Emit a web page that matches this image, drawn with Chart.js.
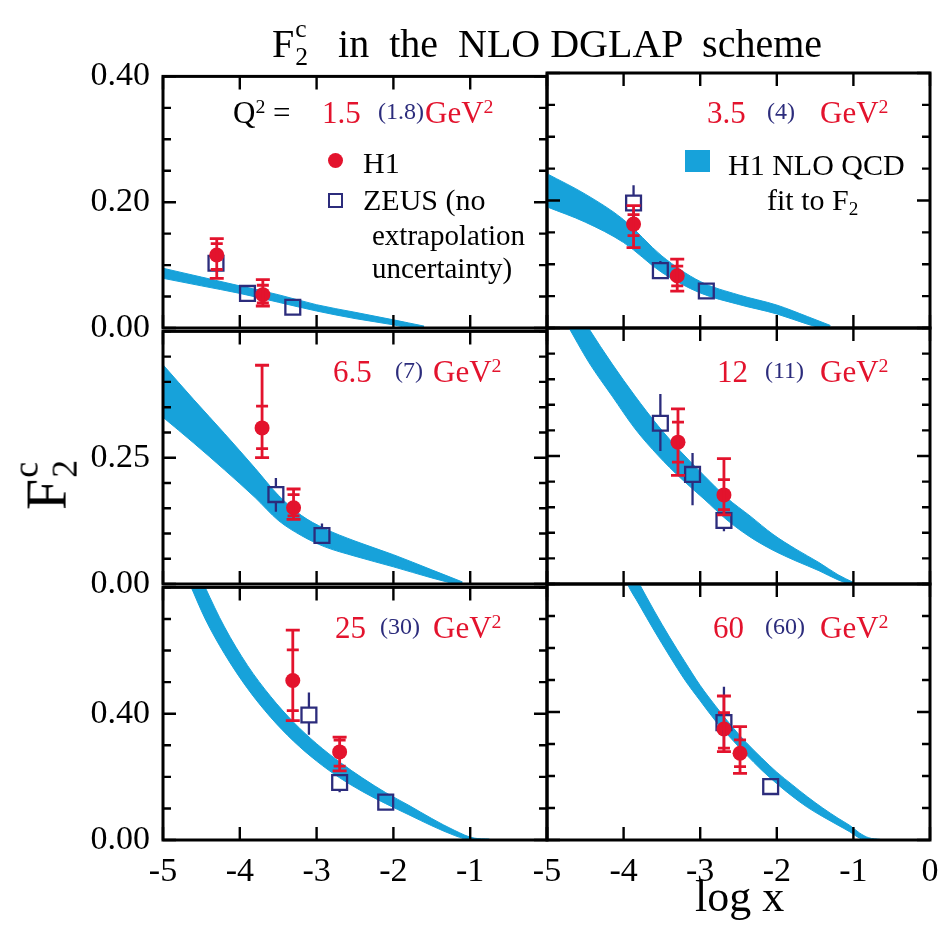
<!DOCTYPE html>
<html>
<head>
<meta charset="utf-8">
<script src="https://cdn.jsdelivr.net/npm/chart.js@4.4.0/dist/chart.umd.min.js"></script>
<style>
  html, body { margin: 0; padding: 0; background: #fff; }
  #page { position: relative; width: 940px; height: 930px; overflow: hidden;
          font-family: 'Liberation Serif', 'Times New Roman', serif; color: #000; }
  #page canvas { position: absolute; }
  .t { position: absolute; white-space: pre; line-height: 1; }
  .t sup { font-size: 0.64em; position: relative; top: -0.5em; vertical-align: baseline; line-height: 0; }
  .t sub { font-size: 0.64em; position: relative; top: 0.28em; vertical-align: baseline; line-height: 0; }
  .stack { display: inline-block; font-size: 0.64em; line-height: 1.1; vertical-align: -0.32em; margin-left: 1px; }
  .stack span { display: block; }
</style>
</head>
<body>
<div id="page"></div>
<script>
// ---- data ----
const panelQ2 = ['1.5', '3.5', '6.5', '12', '25', '60'];
const zeusQ2 = ['(1.8)', '(4)', '(7)', '(11)', '(30)', '(60)'];

const xTickVals = [-5, -4, -3, -2, -1, 0];
const rowYMax = [0.4, 0.5, 0.8];
const rowYTicks = [
  [0, 0.05, 0.1, 0.15, 0.2, 0.25, 0.3, 0.35, 0.4],
  [0, 0.05, 0.1, 0.15, 0.2, 0.25, 0.3, 0.35, 0.4, 0.45, 0.5],
  [0, 0.1, 0.2, 0.3, 0.4, 0.5, 0.6, 0.7, 0.8]
];
const rowYLabels = [[0, 0.2, 0.4], [0, 0.25], [0, 0.4]];

// H1 points (log x, F2c, total and stat error ends)
const h1LogX   = [[-4.30, -3.70], [-3.87, -3.30], [-3.71, -3.30], [-3.29, -2.69], [-3.31, -2.70], [-2.69, -2.48]];
const h1F2c    = [[0.116, 0.053], [0.163, 0.082], [0.309, 0.151], [0.277, 0.174], [0.505, 0.279], [0.347, 0.271]];
const h1TotHi  = [[0.142, 0.077], [0.192, 0.108], [0.433, 0.188], [0.342, 0.245], [0.665, 0.326], [0.450, 0.354]];
const h1TotLo  = [[0.079, 0.035], [0.126, 0.058], [0.250, 0.128], [0.212, 0.135], [0.378, 0.219], [0.276, 0.208]];
const h1StatHi = [[0.134, 0.068], [0.178, 0.097], [0.352, 0.177], [0.316, 0.204], [0.602, 0.316], [0.398, 0.313]];
const h1StatLo = [[0.093, 0.040], [0.145, 0.066], [0.268, 0.135], [0.238, 0.145], [0.410, 0.234], [0.287, 0.229]];

// ZEUS points (log x, F2c, error ends)
const zeusLogX = [[-4.31, -3.90, -3.31], [-3.87, -3.52, -2.92], [-3.53, -2.93], [-3.52, -3.10, -2.69], [-3.10, -2.70, -2.10], [-2.69, -2.08]];
const zeusF2c  = [[0.103, 0.055, 0.033], [0.196, 0.090, 0.058], [0.177, 0.096], [0.314, 0.214, 0.124], [0.396, 0.182, 0.120], [0.367, 0.167]];
const zeusHi   = [[0.114, 0.062, 0.038], [0.224, 0.105, 0.063], [0.210, 0.120], [0.371, 0.256, 0.139], [0.467, 0.198, 0.129], [0.479, 0.176]];
const zeusLo   = [[0.092, 0.048, 0.028], [0.170, 0.080, 0.053], [0.143, 0.080], [0.260, 0.154, 0.103], [0.333, 0.151, 0.111], [0.276, 0.158]];

// H1 NLO QCD fit band (lower and upper edge)
const bandLogX = [
  [-5, -4.5, -4, -3.5, -3, -2.5, -2, -1.8, -1.6],
  [-5, -4.5, -4.0, -3.5, -3.0, -2.5, -2.0, -1.6, -1.3],
  [-5, -4.6, -4.2, -3.8, -3.5, -3.2, -2.9, -2.5, -2.0, -1.5, -1.1],
  [-4.75, -4.45, -4.15, -3.85, -3.55, -3.25, -2.95, -2.65, -2.35, -2.05, -1.75, -1.45, -1.2, -1.0],
  [-4.65, -4.45, -4.2, -3.9, -3.6, -3.3, -3.0, -2.7, -2.4, -2.1, -1.8, -1.5, -1.2, -0.95, -0.75],
  [-4.05, -3.95, -3.8, -3.6, -3.4, -3.2, -3.0, -2.8, -2.6, -2.4, -2.2, -2.0, -1.8, -1.6, -1.4, -1.2, -1.05, -0.92, -0.8, -0.65]
];
const bandLo = [
  [0.079, 0.067, 0.055, 0.041, 0.027, 0.015, 0.005, 0.0, -0.004],
  [0.190, 0.166, 0.134, 0.087, 0.055, 0.037, 0.022, 0.006, -0.004],
  [0.330, 0.279, 0.226, 0.171, 0.126, 0.096, 0.074, 0.055, 0.034, 0.012, -0.004],
  [0.51, 0.432, 0.367, 0.303, 0.251, 0.206, 0.166, 0.125, 0.092, 0.066, 0.045, 0.026, 0.008, -0.003],
  [0.81, 0.70, 0.590, 0.480, 0.389, 0.313, 0.250, 0.197, 0.153, 0.115, 0.080, 0.045, 0.014, -0.004, -0.006],
  [0.86, 0.80, 0.737, 0.654, 0.575, 0.500, 0.435, 0.372, 0.318, 0.267, 0.219, 0.176, 0.137, 0.102, 0.073, 0.046, 0.026, 0.006, -0.003, -0.006]
];
const bandHi = [
  [0.095, 0.081, 0.067, 0.053, 0.037, 0.025, 0.013, 0.008, 0.003],
  [0.242, 0.210, 0.170, 0.113, 0.073, 0.052, 0.036, 0.018, 0.004],
  [0.434, 0.365, 0.298, 0.229, 0.176, 0.136, 0.110, 0.085, 0.058, 0.028, 0.004],
  [0.57, 0.498, 0.430, 0.367, 0.309, 0.258, 0.212, 0.168, 0.133, 0.097, 0.068, 0.042, 0.018, 0.003],
  [0.91, 0.80, 0.675, 0.553, 0.455, 0.373, 0.305, 0.247, 0.196, 0.150, 0.110, 0.068, 0.030, 0.006, 0.003],
  [0.93, 0.87, 0.803, 0.716, 0.634, 0.557, 0.483, 0.419, 0.359, 0.305, 0.257, 0.212, 0.173, 0.135, 0.100, 0.068, 0.046, 0.022, 0.007, 0.002]
];

// ---- layout ----
const RED = '#e3132d';
const NAVY = '#2c2c7c';
const BAND = '#17a2da';
const SERIF = "'Liberation Serif', 'Times New Roman', serif";

const colX = [163, 547, 930];
const rowY = [73, 328, 584, 840];
const M = { l: 110, t: 30, r: 30, b: 70 };

const page = document.getElementById('page');

const isLabel = (row, v) => rowYLabels[row].some(l => Math.abs(l - v) < 1e-9);

function seg(ctx, x1, y1, x2, y2) {
    ctx.moveTo(x1, y1);
    ctx.lineTo(x2, y2);
}

function drawErrors(chart, p) {
    const { ctx, scales: { x, y } } = chart;
    ctx.save();
    ctx.beginPath();
    ctx.strokeStyle = NAVY;
    ctx.lineWidth = 2.3;
    zeusLogX[p].forEach((lx, k) => {
        const px = x.getPixelForValue(lx);
        const py = y.getPixelForValue(zeusF2c[p][k]);
        const hs = 7.5;
        const top = y.getPixelForValue(zeusHi[p][k]);
        const bot = y.getPixelForValue(zeusLo[p][k]);
        if (top < py - hs) seg(ctx, px, top, px, py - hs);
        if (bot > py + hs) seg(ctx, px, py + hs, px, bot);
    });
    ctx.stroke();

    ctx.beginPath();
    ctx.strokeStyle = RED;
    ctx.lineWidth = 2.8;
    h1LogX[p].forEach((lx, k) => {
        const px = x.getPixelForValue(lx);
        seg(ctx, px, y.getPixelForValue(h1TotHi[p][k]), px, y.getPixelForValue(h1TotLo[p][k]));
        [h1TotHi, h1TotLo].forEach(arr => {
            const yy = y.getPixelForValue(arr[p][k]);
            seg(ctx, px - 7, yy, px + 7, yy);
        });
        [h1StatHi, h1StatLo].forEach(arr => {
            const yy = y.getPixelForValue(arr[p][k]);
            seg(ctx, px - 6, yy, px + 6, yy);
        });
    });
    ctx.stroke();
    ctx.restore();
}

function drawFrame(chart, row) {
    const { ctx, chartArea: a, scales: { x, y } } = chart;
    ctx.save();
    ctx.strokeStyle = '#000';
    ctx.lineWidth = 2.4;
    ctx.beginPath();
    xTickVals.forEach(v => {
        const px = x.getPixelForValue(v);
        seg(ctx, px, a.bottom, px, a.bottom - 13);
        seg(ctx, px, a.top, px, a.top + 13);
    });
    rowYTicks[row].forEach(v => {
        const py = y.getPixelForValue(v);
        const len = isLabel(row, v) ? 13 : 8;
        seg(ctx, a.left, py, a.left + len, py);
        seg(ctx, a.right, py, a.right - len, py);
    });
    ctx.stroke();
    ctx.lineWidth = 3;
    ctx.strokeRect(a.left, a.top, a.right - a.left, a.bottom - a.top);
    ctx.restore();
}

const framePlugin = {
    id: 'frame',
    afterDatasetsDraw(chart, args, opts) {
        drawErrors(chart, opts.panel);
    },
    afterDraw(chart, args, opts) {
        drawFrame(chart, opts.row);
    }
};

function makePanel(p) {
    const row = Math.floor(p / 2);
    const col = p % 2;
    const w = colX[col + 1] - colX[col] + M.l + M.r;
    const h = rowY[row + 1] - rowY[row] + M.t + M.b;
    const cv = document.createElement('canvas');
    cv.width = w;
    cv.height = h;
    cv.style.left = (colX[col] - M.l) + 'px';
    cv.style.top = (rowY[row] - M.t) + 'px';
    cv.style.width = w + 'px';
    cv.style.height = h + 'px';
    page.appendChild(cv);

    const pts = (xs, ys) => xs.map((x, k) => ({ x, y: ys[k] }));

    new Chart(cv.getContext('2d'), {
        type: 'line',
        data: {
            datasets: [
                {
                    label: 'H1',
                    data: pts(h1LogX[p], h1F2c[p]),
                    showLine: false,
                    pointStyle: 'circle',
                    pointRadius: 7.5,
                    backgroundColor: RED,
                    borderColor: RED,
                    borderWidth: 0
                },
                {
                    label: 'ZEUS',
                    data: pts(zeusLogX[p], zeusF2c[p]),
                    showLine: false,
                    pointStyle: 'rect',
                    pointRadius: 10.5,
                    backgroundColor: 'rgba(0,0,0,0)',
                    borderColor: NAVY,
                    borderWidth: 2.3
                },
                {
                    label: 'fit low',
                    data: pts(bandLogX[p], bandLo[p]),
                    borderColor: BAND,
                    borderWidth: 1,
                    pointRadius: 0,
                    fill: false,
                    clip: 0,
                    cubicInterpolationMode: 'monotone'
                },
                {
                    label: 'H1 NLO QCD fit to F2',
                    data: pts(bandLogX[p], bandHi[p]),
                    borderColor: BAND,
                    backgroundColor: BAND,
                    borderWidth: 1,
                    pointRadius: 0,
                    fill: '-1',
                    clip: 0,
                    cubicInterpolationMode: 'monotone'
                }
            ]
        },
        options: {
            responsive: false,
            animation: false,
            devicePixelRatio: 1,
            events: [],
            layout: {
                padding: { left: col === 0 ? 0 : M.l, top: M.t, right: M.r, bottom: row === 2 ? 0 : M.b }
            },
            plugins: {
                legend: { display: false },
                tooltip: { enabled: false },
                frame: { panel: p, row: row }
            },
            scales: {
                x: {
                    type: 'linear',
                    min: -5,
                    max: 0,
                    display: row === 2,
                    afterBuildTicks: s => { s.ticks = xTickVals.map(v => ({ value: v })); },
                    afterFit: s => { if (row === 2) s.height = M.b; },
                    grid: { display: false, drawTicks: false },
                    border: { display: false },
                    ticks: {
                        autoSkip: false,
                        maxRotation: 0,
                        padding: 12,
                        color: '#000',
                        font: { family: SERIF, size: 34 },
                        callback: v => (col === 0 && v === 0) ? '' : String(v)
                    }
                },
                y: {
                    type: 'linear',
                    min: 0,
                    max: rowYMax[row],
                    display: col === 0,
                    afterBuildTicks: s => { s.ticks = rowYTicks[row].map(v => ({ value: v })); },
                    afterFit: s => { if (col === 0) s.width = M.l; },
                    grid: { display: false, drawTicks: false },
                    border: { display: false },
                    ticks: {
                        autoSkip: false,
                        padding: 13,
                        color: '#000',
                        font: { family: SERIF, size: 34 },
                        callback: v => isLabel(row, v) ? v.toFixed(2) : ''
                    }
                }
            }
        },
        plugins: [framePlugin]
    });
}

for (let p = 0; p < 6; p++) makePanel(p);

// ---- text ----
function addText(html, left, baseline, size, color) {
    const d = document.createElement('div');
    d.className = 't';
    d.innerHTML = html;
    d.style.left = left + 'px';
    d.style.top = (baseline - 0.8375 * size) + 'px';
    d.style.fontSize = size + 'px';
    d.style.color = color || '#000';
    page.appendChild(d);
    return d;
}

function addBox(left, top, w, h, css) {
    const d = document.createElement('div');
    d.style.position = 'absolute';
    d.style.left = left + 'px';
    d.style.top = top + 'px';
    d.style.width = w + 'px';
    d.style.height = h + 'px';
    d.style.boxSizing = 'border-box';
    Object.assign(d.style, css);
    page.appendChild(d);
}

// per-panel Q2 labels: left of value, left of ZEUS value, left of unit, baseline
const q2Pos = [
    [322, 378, 425, 123],
    [707, 767, 820, 123],
    [333, 395, 433, 382],
    [717, 765, 820, 382],
    [335, 380, 433, 638],
    [713, 765, 820, 638]
];
q2Pos.forEach((pos, p) => {
    addText(panelQ2[p], pos[0], pos[3], 31, RED);
    addText(zeusQ2[p], pos[1], pos[3] - 4, 24, NAVY);
    addText('GeV<sup>2</sup>', pos[2], pos[3], 31, RED);
});
addText('Q<sup>2</sup> =', 233, 123, 31, '#000');

// legend, top-left
addBox(328, 153, 15, 15, { background: RED, borderRadius: '50%' });
addText('H1', 363, 173, 30);
addBox(328, 193, 15, 15, { border: '2.3px solid ' + NAVY });
addText('ZEUS (no', 363, 210, 30);
addText('extrapolation', 372, 245, 29);
addText('uncertainty)', 372, 278, 29);

// legend, top-right
addBox(685, 150, 25, 22, { background: BAND });
addText('H1 NLO QCD', 728, 175, 30);
addText('fit to F<sub>2</sub>', 767, 210, 30);

// title
addText('F<span class="stack"><span>c</span><span>2</span></span>   in  the  NLO DGLAP  scheme', 272, 48, 40);

// axis titles
addText('log x', 695, 912, 44);
const yt = addText('F<span class="stack"><span>c</span><span>2</span></span>', 0, 0, 56);
yt.style.left = '46px';
yt.style.top = '485px';
yt.style.transform = 'translate(-50%, -50%) rotate(-90deg)';
</script>
</body>
</html>
